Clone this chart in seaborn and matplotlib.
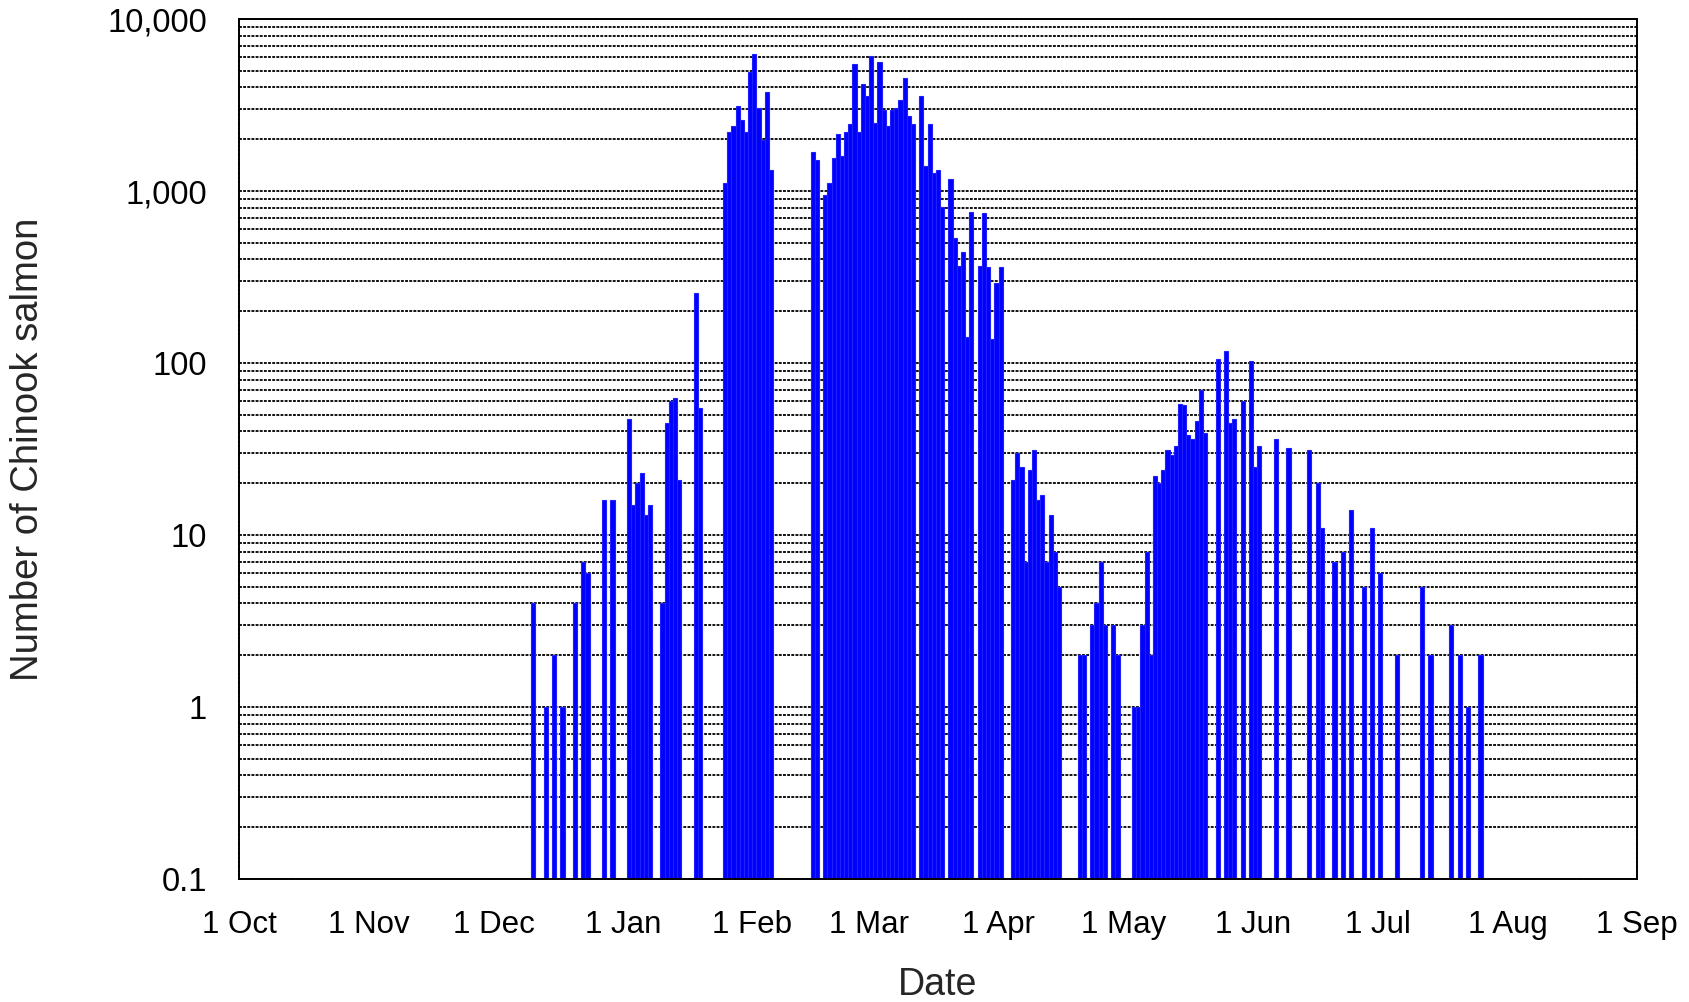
import matplotlib
matplotlib.use("Agg")
import matplotlib.pyplot as plt
import matplotlib.ticker as mticker
import numpy as np
import pandas as pd
import seaborn as sns

# season axis: 1 Oct to 1 Sep
season_start = "1998-10-01"
season_end = "1999-09-01"

# daily counts (days with no fish are left out)
dates = [
    "1998-12-10", "1998-12-13", "1998-12-15", "1998-12-17", "1998-12-20", "1998-12-22",
    "1998-12-23", "1998-12-27", "1998-12-29",
    "1999-01-02", "1999-01-03", "1999-01-04", "1999-01-05", "1999-01-06", "1999-01-07",
    "1999-01-10", "1999-01-11", "1999-01-12", "1999-01-13", "1999-01-14", "1999-01-18",
    "1999-01-19", "1999-01-25", "1999-01-26", "1999-01-27", "1999-01-28", "1999-01-29",
    "1999-01-30", "1999-01-31",
    "1999-02-01", "1999-02-02", "1999-02-03", "1999-02-04", "1999-02-05", "1999-02-15",
    "1999-02-16", "1999-02-18", "1999-02-19", "1999-02-20", "1999-02-21", "1999-02-22",
    "1999-02-23", "1999-02-24", "1999-02-25", "1999-02-26", "1999-02-27", "1999-02-28",
    "1999-03-01", "1999-03-02", "1999-03-03", "1999-03-04", "1999-03-05", "1999-03-06",
    "1999-03-07", "1999-03-08", "1999-03-09", "1999-03-10", "1999-03-11", "1999-03-13",
    "1999-03-14", "1999-03-15", "1999-03-16", "1999-03-17", "1999-03-18", "1999-03-20",
    "1999-03-21", "1999-03-22", "1999-03-23", "1999-03-24", "1999-03-25", "1999-03-27",
    "1999-03-28", "1999-03-29", "1999-03-30", "1999-03-31",
    "1999-04-01", "1999-04-04", "1999-04-05", "1999-04-06", "1999-04-07", "1999-04-08",
    "1999-04-09", "1999-04-10", "1999-04-11", "1999-04-12", "1999-04-13", "1999-04-14",
    "1999-04-15", "1999-04-20", "1999-04-21", "1999-04-23", "1999-04-24", "1999-04-25",
    "1999-04-26", "1999-04-28", "1999-04-29",
    "1999-05-03", "1999-05-04", "1999-05-05", "1999-05-06", "1999-05-07", "1999-05-08",
    "1999-05-09", "1999-05-10", "1999-05-11", "1999-05-12", "1999-05-13", "1999-05-14",
    "1999-05-15", "1999-05-16", "1999-05-17", "1999-05-18", "1999-05-19", "1999-05-20",
    "1999-05-23", "1999-05-25", "1999-05-26", "1999-05-27", "1999-05-29", "1999-05-31",
    "1999-06-01", "1999-06-02", "1999-06-06", "1999-06-09", "1999-06-14", "1999-06-16",
    "1999-06-17", "1999-06-20", "1999-06-22", "1999-06-24", "1999-06-27", "1999-06-29",
    "1999-07-01", "1999-07-05", "1999-07-11", "1999-07-13", "1999-07-18", "1999-07-20",
    "1999-07-22", "1999-07-25",
]
counts = [
    4, 1, 2, 1, 4, 7,
    6, 16, 16,
    47, 15, 20, 23, 13, 15,
    4, 45, 60, 63, 21, 255,
    55, 1120, 2200, 2380, 3100, 2570,
    2200, 4900,
    6250, 3030, 1970, 3760, 1320, 1680,
    1510, 950, 1120, 1550, 2140, 1590,
    2200, 2440, 5470, 2200, 4180, 3550,
    6080, 2500, 5600, 2950, 2380, 2950,
    3030, 3370, 4530, 2720, 2440, 3550,
    1390, 2440, 1280, 1320, 810, 1180,
    530, 365, 440, 142, 750, 365,
    740, 360, 138, 293,
    360, 21, 30, 25, 7, 24,
    31, 16, 17, 7, 13, 8,
    5, 2, 2, 3, 4, 7,
    3, 3, 2,
    1, 1, 3, 8, 2, 22,
    20, 24, 31, 29, 33, 58,
    57, 38, 36, 46, 70, 39,
    105, 118, 45, 47, 60, 103,
    25, 33, 36, 32, 31, 20,
    11, 7, 8, 14, 5, 11,
    6, 2, 5, 2, 3, 2,
    1, 2,
]

y_ticks = [0.1, 1, 10, 100, 1000, 10000]
y_tick_labels = ["0.1", "1", "10", "100", "1,000", "10,000"]

start = pd.Timestamp(season_start)
end = pd.Timestamp(season_end)
df = pd.DataFrame({"date": pd.to_datetime(dates), "count": counts})
df["day"] = (df["date"] - start).dt.days
n_days = (end - start).days

months = pd.date_range(start, end, freq="MS")
month_days = [(m - start).days for m in months]
month_labels = [f"1 {m.strftime('%b')}" for m in months]

sns.set_theme(style="white")
plt.rcParams["font.family"] = ["Liberation Sans", "DejaVu Sans"]

fig = plt.figure(figsize=(16.9, 10.02), dpi=100)
ax = fig.add_axes([239 / 1690, 1 - 879 / 1002, (1637 - 239) / 1690, (879 - 19) / 1002])

sns.histplot(
    data=df,
    x="day",
    weights="count",
    binwidth=1,
    binrange=(0, n_days),
    color="#0000ff",
    alpha=1,
    edgecolor="#2020ff",
    linewidth=0.8,
    ax=ax,
)

ax.set_yscale("log")
ax.set_ylim(0.1, 10000)
ax.set_xlim(0, n_days)
ax.set_axisbelow(True)

ax.yaxis.set_major_locator(mticker.FixedLocator(y_ticks))
ax.yaxis.set_major_formatter(mticker.FixedFormatter(y_tick_labels))
ax.yaxis.set_minor_locator(mticker.LogLocator(base=10, subs=np.arange(2, 10)))
ax.yaxis.set_minor_formatter(mticker.NullFormatter())
ax.set_xticks(month_days)
ax.set_xticklabels(month_labels)

dots = (0, (1.6, 0.7))
ax.grid(True, axis="y", which="both", color="black", linestyle=dots, linewidth=1.3)
ax.grid(False, axis="x")
for spine in ax.spines.values():
    spine.set_visible(True)
    spine.set_color("black")
    spine.set_linewidth(1.4)
    spine.set_linestyle(dots)

ax.tick_params(axis="both", which="both", length=0, labelsize=22.5, colors="black")
ax.tick_params(axis="y", pad=23, labelsize=23.5)
ax.tick_params(axis="x", pad=22)

ax.set_xlabel("Date", fontsize=27, labelpad=20)
ax.set_ylabel("Number of Chinook salmon", fontsize=27.5, labelpad=44)

fig.savefig("out.png", dpi=100, facecolor="white")
